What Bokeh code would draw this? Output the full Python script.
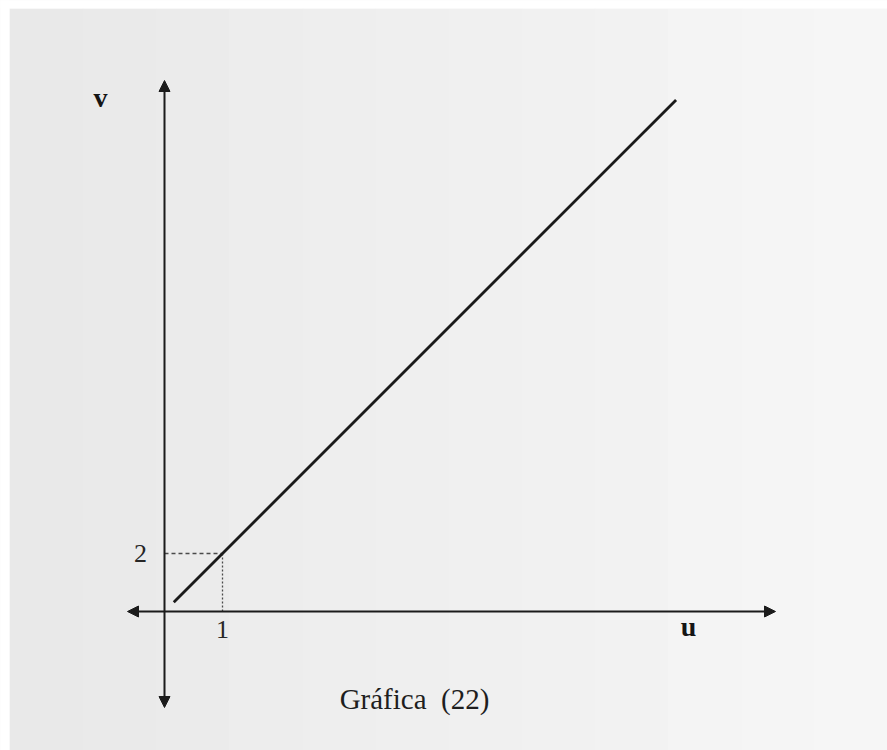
from bokeh.plotting import figure
from bokeh.models import Arrow, NormalHead, Range1d
from bokeh.core.properties import value
from bokeh.embed import file_html
from bokeh.resources import INLINE

# ---- values -------------------------------------------------------------
# straight line v = 2u, drawn between its two end points
line_u = [0.16, 8.82]
line_v = [0.32, 17.64]

# the marked point on the line and its guide values
mark_u = [1]
mark_v = [2]
tick_u_label = ["1"]
tick_v_label = ["2"]

axis_names = ["u", "v"]
caption = "Gráfica\u00a0\u00a0(22)"

# ---- page geometry --------------------------------------------------------
W, H = 887, 750
ORIGIN_PX = (164, 611)       # where u = 0, v = 0 sits on the page
PX_PER_U, PX_PER_V = 58.0, 29.0

x0 = -ORIGIN_PX[0] / PX_PER_U
x1 = (W - ORIGIN_PX[0]) / PX_PER_U
y1 = ORIGIN_PX[1] / PX_PER_V
y0 = -(H - ORIGIN_PX[1]) / PX_PER_V


def ux(px):
    return x0 + px / PX_PER_U


def vy(py):
    return y1 - py / PX_PER_V


p = figure(width=W, height=H, x_range=Range1d(x0, x1), y_range=Range1d(y0, y1),
           output_backend="svg", toolbar_location=None, min_border=0)
p.axis.visible = False
p.grid.visible = False
p.outline_line_color = None
p.background_fill_color = "#f6f6f6"
p.border_fill_color = "#f6f6f6"

# paper tone: a soft grey sheet, a little darker on the left
bands = 12
left_px, top_px = 9, 8
shades = [(233, 233, 233), (246, 246, 246)]
for i in range(bands):
    t = i / (bands - 1)
    c = tuple(int(round(shades[0][k] + (shades[1][k] - shades[0][k]) * t)) for k in range(3))
    a = left_px + (W - left_px) * i / bands
    b = left_px + (W - left_px) * (i + 1) / bands + 1
    p.quad(left=[ux(a)], right=[ux(b)], top=[vy(top_px)], bottom=[vy(H + 20)],
           fill_color="#%02x%02x%02x" % c, line_color=None)

# white margin of the sheet along the top and left edges
p.quad(left=[ux(-20)], right=[ux(W + 20)], top=[vy(-20)], bottom=[vy(top_px)],
       fill_color="white", line_color=None)
p.quad(left=[ux(-20)], right=[ux(left_px)], top=[vy(-20)], bottom=[vy(H + 20)],
       fill_color="white", line_color=None)

ink = "#1b1b1b"

# coordinate axes with arrow heads at both ends
def head():
    return NormalHead(size=11, fill_color=ink, line_color=ink, line_width=1)

p.add_layout(Arrow(start=head(), end=head(), x_start=ux(127), y_start=0,
                   x_end=ux(775), y_end=0, line_color=ink, line_width=2))
p.add_layout(Arrow(start=head(), end=head(), x_start=0, y_start=vy(707),
                   x_end=0, y_end=vy(80), line_color=ink, line_width=2))

# guide lines to the marked point
p.line(x=[0, mark_u[0]], y=[mark_v[0], mark_v[0]], line_color="#4a4a4a",
       line_width=1.3, line_dash="4 3")
p.line(x=[mark_u[0], mark_u[0]], y=[0, mark_v[0]], line_color="#4a4a4a",
       line_width=1.3, line_dash="2 2")

# the line itself
p.line(x=line_u, y=line_v, line_color="#1a1a1a", line_width=2.8)

serif = value("Liberation Serif")

# value labels
p.text(x=[ux(140)], y=mark_v, text=tick_v_label, text_font=serif,
       text_font_size="26px", text_align="center", text_baseline="middle",
       text_color="#262626")
p.text(x=mark_u, y=[vy(629)], text=tick_u_label, text_font=serif,
       text_font_size="26px", text_align="center", text_baseline="middle",
       text_color="#262626")

# axis names
p.text(x=[ux(688)], y=[vy(626)], text=[axis_names[0]], text_font=serif,
       text_font_size="28px", text_font_style="bold", text_align="center",
       text_baseline="middle", text_color="#151515")
p.text(x=[ux(100)], y=[vy(97)], text=[axis_names[1]], text_font=serif,
       text_font_size="28px", text_font_style="bold", text_align="center",
       text_baseline="middle", text_color="#151515")

# caption
p.text(x=[ux(414)], y=[vy(698)], text=[caption], text_font=serif,
       text_font_size="29px", text_align="center", text_baseline="middle",
       text_color="#1e1e1e")

open("out.html", "w").write(file_html(p, INLINE))
